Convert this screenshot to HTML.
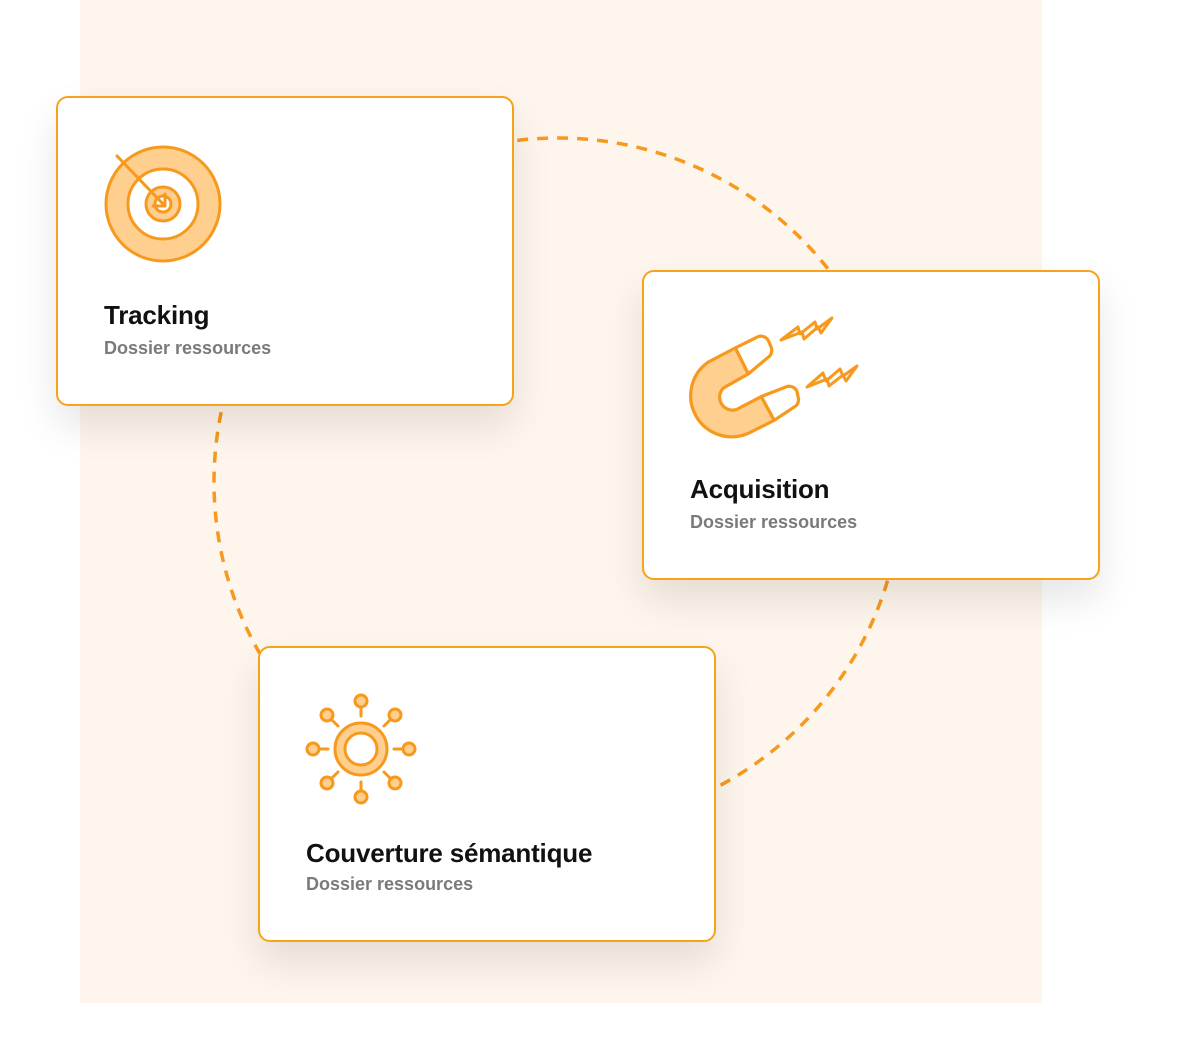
<!DOCTYPE html>
<html><head><meta charset="utf-8"><style>
body{margin:0;width:1203px;height:1040px;background:#fff;position:relative;overflow:hidden;font-family:"Liberation Sans",sans-serif}
.bg{position:absolute;left:80px;top:0;width:962px;height:1003px;background:#fef6ec}
.card{position:absolute;background:#fff;border:2px solid #f7a21b;border-radius:12px;box-sizing:border-box;box-shadow:0 20px 40px rgba(0,0,0,0.10)}
.t{position:absolute;font-size:26px;font-weight:bold;color:#111;letter-spacing:-0.2px}
.s{position:absolute;font-size:18px;font-weight:bold;color:#7a7a7a}
svg{position:absolute;left:0;top:0}
</style></head><body>
<div class="bg"></div>
<svg width="1203" height="1040"><circle cx="558" cy="482" r="344" fill="none" stroke="#f7991c" stroke-width="3.5" stroke-dasharray="11 9"/></svg>
<div class="card" style="left:56px;top:96px;width:458px;height:310px">
<div class="t" style="left:46px;top:202px">Tracking</div>
<div class="s" style="left:46px;top:240px">Dossier ressources</div></div>
<div class="card" style="left:642px;top:270px;width:458px;height:310px">
<div class="t" style="left:46px;top:202px">Acquisition</div>
<div class="s" style="left:46px;top:240px">Dossier ressources</div></div>
<div class="card" style="left:258px;top:646px;width:458px;height:296px">
<div class="t" style="left:46px;top:190px">Couverture sémantique</div>
<div class="s" style="left:46px;top:226px">Dossier ressources</div></div>
<svg width="1203" height="1040" fill="none" stroke="#f7991c" stroke-width="3" stroke-linecap="round" stroke-linejoin="round">
<circle cx="163" cy="204" r="57" fill="#ffcf8f"/>
<circle cx="163" cy="204" r="35" fill="#fff"/>
<circle cx="163" cy="204" r="17" fill="#ffcf8f"/>
<circle cx="163" cy="204" r="8" fill="#fff"/>
<path d="M117 156 L165 206 M153 206 H165 V194"/>
<g transform="translate(690 335) scale(1.08) translate(-698 -335)">
<path d="M740 347 L715 360 A38 38 0 0 0 752 426 L776 414 L764 392 L741 404 A12 12 0 0 1 729 384 L752 371 Z" fill="#ffcf8f"/>
<path d="M740 347 L760 337 A8 8 0 0 1 771 341 L773 346 A8 8 0 0 1 770 356 L752 371 Z" fill="#fff"/>
<path d="M764 392 L787 383 A8 8 0 0 1 797 387 L798 392 A8 8 0 0 1 794 402 L776 414 Z" fill="#fff"/>
</g>
<path d="M781 340 L798 327 L800 334 L815 322 L817 329 L832 318 L821 333 L818 327 L804 339 L802 332 Z" fill="#fff8ee"/>
<path d="M807 387 L823 373 L826 381 L840 369 L843 376 L857 366 L846 381 L843 375 L829 386 L827 379 Z" fill="#fff8ee"/>
<circle cx="361" cy="749" r="26" fill="#ffcf8f"/>
<circle cx="361" cy="749" r="16" fill="#fff"/>
<g fill="#ffcf8f">
<circle cx="361" cy="701" r="6"/><circle cx="361" cy="797" r="6"/>
<circle cx="313" cy="749" r="6"/><circle cx="409" cy="749" r="6"/>
<circle cx="327" cy="715" r="6"/><circle cx="395" cy="715" r="6"/>
<circle cx="327" cy="783" r="6"/><circle cx="395" cy="783" r="6"/></g>
<path d="M361 707V716 M361 782V791 M319 749H328 M394 749H403 M332 720L338 726 M390 720L384 726 M332 778L338 772 M390 778L384 772"/>
</svg>
</body></html>
